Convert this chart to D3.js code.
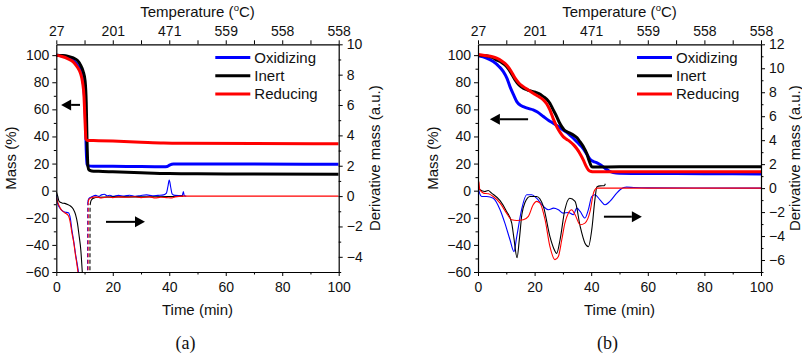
<!DOCTYPE html>
<html>
<head>
<meta charset="utf-8">
<script src="https://cdn.jsdelivr.net/npm/d3@7/dist/d3.min.js"></script>
<style>
  html, body { margin: 0; padding: 0; background: #fff; }
  svg { display: block; }
  .tick text { font-family: "Liberation Sans", Arial, sans-serif; font-size: 14px; fill: #111; }
  .lbl { font-family: "Liberation Sans", Arial, sans-serif; font-size: 15px; fill: #111; }
</style>
</head>
<body>
<svg id="chart" width="802" height="358"></svg>
<script>
// ---- shared axis content ----
const timeTicks = [0, 20, 40, 60, 80, 100];
const timeMinorTicks = [10, 30, 50, 70, 90];
const tempLabels = ["27", "201", "471", "559", "558", "558"];
const massTicks = [-60, -40, -20, 0, 20, 40, 60, 80, 100];
const massMinorTicks = [-50, -30, -10, 10, 30, 50, 70, 90];
const seriesNames = ["Oxidizing", "Inert", "Reducing"];
const seriesColors = ["#0000ff", "#000000", "#ff0000"];

// ---- panel (a): mass (%) vs time (min) ----
const massA_oxidizing = [[0,100],[2,99.5],[4,98.3],[6,96],[7.5,92.5],[8.5,89],[9.3,83],[9.9,72],[10.3,55],[10.6,30],[10.9,19.5],[11.5,18.3],[13,18.1],[20,18],[30,17.8],[38,17.7],[39.3,17.9],[40.3,19.1],[41.5,19.6],[50,19.7],[70,19.6],[100,19.5]];
const massA_inert = [[0,100],[2,99.8],[4,99.3],[6,98],[7.5,96],[8.5,93],[9.5,88],[10.2,81],[10.6,65],[10.9,35],[11.2,18],[11.6,15.2],[12.5,14.6],[15,14.3],[20,13.9],[30,13.2],[40,12.6],[50,12.4],[70,12.3],[100,12.1]];
const massA_reducing = [[0,100],[2,99],[4,97.5],[6,95],[7.5,91],[8.5,87],[9.3,80],[9.8,70],[10.2,50],[10.5,38],[11,37],[15,36.9],[20,36.6],[30,35.8],[38,35.2],[45,35],[70,34.8],[100,34.6]];

// ---- panel (a): derivative mass (a.u.) vs time (min) ----
const derivA_oxidizing = [[0,0.1],[0.5,-0.5],[1.3,-0.8],[2,-0.95],[3,-1.05],[4.3,-1.1],[5,-1.5],[5.5,-2.2],[6.2,-3],[6.8,-3.8],[7.5,-4.6],[8,-5.3],[9,-10],[10.4,-40],[11.15,-0.35],[11.6,-0.15],[12.5,-0.05],[14,0.05],[15,-0.02],[16,0.08],[17,0.12],[18,0.02],[19,0.06],[20,-0.02],[22,0.05],[24,0],[26,0.06],[28,-0.02],[30,0.04],[32,0.08],[34,0.02],[36,0.05],[38,0.08],[39,0.2],[39.5,0.6],[40,1.05],[40.5,0.6],[41,0.15],[42,0.05],[44.6,0.03],[45,0.3],[45.3,0.03],[46,0]];
const derivA_inert = [[0,0.3],[0.5,0],[1,-0.35],[2,-0.45],[3,-0.48],[4,-0.55],[5,-0.65],[6,-0.85],[6.8,-1.2],[7.5,-1.8],[8,-2.5],[8.7,-3.6],[9.2,-5],[9.8,-7],[10.5,-14],[11.6,-40],[11.95,-0.6],[12.3,-0.3],[13,-0.15],[15,-0.08],[20,-0.05],[30,-0.05],[40,-0.03],[45,0]];
const derivA_reducing = [[0,-0.1],[0.5,-0.4],[1.3,-0.75],[2,-0.95],[3,-1.1],[4.3,-1.3],[5,-1.8],[5.5,-2.4],[6.2,-3.1],[6.8,-3.9],[7.3,-4.5],[7.8,-5.3],[8.5,-8],[9.5,-15],[10.7,-40],[11.3,-0.4],[11.6,-0.2],[12.5,-0.1],[14,-0.05],[16,-0.12],[18,-0.06],[20,-0.1],[22,-0.05],[25,-0.08],[28,-0.04],[30,-0.1],[33,-0.05],[35,-0.12],[37,-0.08],[39,-0.1],[41,-0.12],[42,-0.05],[45,0],[100,0]];

// ---- panel (b): mass (%) vs time (min) ----
const massB_oxidizing = [[0,99.5],[3,97.8],[5.4,95.3],[7.5,91.5],[8.9,88],[10.2,83],[11.3,76.8],[12.5,71],[13.7,65.7],[15,63],[16,62],[18,60.5],[19.5,59.6],[21,58],[23.1,54.7],[25,51.8],[26.6,49.8],[28.5,47.2],[30.1,44.8],[32,42],[33.7,38.7],[35.2,35.5],[36.6,32.5],[38,28.5],[39.6,23.2],[40.8,21.5],[41.9,20.7],[43.5,18.8],[44.9,16.5],[46.3,14.5],[47.8,13.3],[50,12.8],[60,12.7],[80,12.5],[100,12.3]];
const massB_inert = [[0,100],[3,99.5],[5,98.3],[6.6,96.5],[8.5,94.3],[10.1,91.6],[11.5,87.5],[13.1,81.8],[14.5,78],[16,75.6],[17.5,74.3],[19.5,73.1],[21.5,71.6],[23.1,69.4],[24.3,67.5],[25.4,64.5],[26.6,59.5],[27.8,54.7],[28.7,50.5],[29.6,47.3],[30.4,45],[31.3,43.6],[32.5,42.4],[33.7,41.1],[35,39],[36,36.2],[37.2,32.5],[38.4,27.6],[39.3,22],[40.2,17.7],[41,17.5],[50,17.6],[100,17.7]];
const massB_reducing = [[0,100.5],[3,99.5],[5,98.8],[6.6,97.8],[8.5,95.5],[10.1,92.8],[11.6,88.5],[13.1,83],[14.5,79.3],[16,76.8],[17.8,74.3],[19.5,71.9],[21.3,69.6],[23.1,67],[24.3,64],[25.4,59.6],[26.6,53],[27.8,47.3],[29,43],[30.1,39.9],[31.3,38],[32.5,36.2],[33.7,34],[34.8,31.3],[36,27.5],[37.2,22.7],[38.1,18.5],[39,15.3],[40,14.2],[40.8,14],[100,14]];

// ---- panel (b): derivative mass (a.u.) vs time (min) ----
const derivB_oxidizing = [[0,0.1],[0.4,-0.3],[1.3,-0.7],[3.1,-0.7],[5.4,-0.84],[7.8,-1.8],[9.5,-2.92],[11.3,-4.31],[12.7,-5.3],[13.7,-4.03],[15.4,-1.8],[17.2,-0.56],[19,-0.56],[20.7,-0.84],[23.1,-1.53],[24.9,-1.8],[26.7,-1.67],[28.4,-1.8],[30.1,-2.09],[31.9,-2.03],[33.7,-2.22],[34.9,-1.67],[36.1,-1.95],[37.8,-2.5],[39,-1.8],[40.2,-0.7],[41.3,-0.56],[43.1,-0.98],[44.9,-1.39],[46.6,-1.11],[49,-0.42],[50.2,-0.14],[51.5,0.05],[52.5,0.08],[55,0.05],[60,0.02],[100,0]];
const derivB_inert = [[0,0.28],[0.7,-0.14],[2.4,-0.28],[3.6,-0.2],[4.8,-0.42],[7.8,-1.05],[10.1,-1.95],[11.9,-2.9],[12.7,-4.2],[13.8,-5.8],[14.6,-4.3],[15.5,-2.2],[16.6,-1.2],[18.4,-0.7],[20.7,-0.7],[23.1,-1.53],[25.4,-4.03],[26.7,-5],[27.8,-5.45],[29,-4.31],[30.7,-1.8],[32.4,-0.84],[34.3,-1.11],[36.1,-3.2],[37.8,-4.6],[39,-4.88],[40.2,-3.47],[41.3,-0.98],[42,0.1],[43.2,0.19],[44.6,0.2],[45,0.36]];
const derivB_reducing = [[0,0.1],[0.3,0.55],[0.6,-0.1],[1.9,-0.42],[3.7,-0.47],[5.4,-0.7],[7.8,-1.25],[10.1,-2.09],[11.9,-2.64],[13.7,-2.7],[16,-2.64],[17.8,-2.36],[19.5,-1.39],[20.7,-1.11],[21.9,-1.25],[23.7,-2.64],[25.4,-4.86],[27.2,-5.97],[28.4,-5.7],[29.6,-4.31],[30.7,-2.92],[31.9,-2.09],[33.1,-1.8],[34.3,-2.22],[36.1,-3.06],[37.8,-2.92],[39.6,-1.95],[40.8,-0.42],[41.3,-0.14],[42,0],[100,0]];

const panels = [
  {
    id: "a", left: 56.3, right: 338.7, top: 44.3, bottom: 272,
    massDomain: [-60, 108], derivDomain: [-5, 10],
    derivTicks: [-4, -2, 0, 2, 4, 6, 8, 10], derivMinor: [-5, -3, -1, 1, 3, 5, 7, 9],
    mass: [massA_oxidizing, massA_inert, massA_reducing],
    deriv: [derivA_oxidizing, derivA_inert, derivA_reducing],
    // arrows in (time, mass) units
    arrows: [{ from: [8.4, 63.3], to: [1.7, 63.3] }, { from: [17.6, -23], to: [31.4, -23] }],
    rightLabelX: 375
  },
  {
    id: "b", left: 478, right: 761, top: 44.3, bottom: 272,
    massDomain: [-60, 108], derivDomain: [-7, 12],
    derivTicks: [-6, -4, -2, 0, 2, 4, 6, 8, 10, 12], derivMinor: [-7, -5, -3, -1, 1, 3, 5, 7, 9, 11],
    mass: [massB_oxidizing, massB_inert, massB_reducing],
    deriv: [derivB_oxidizing, derivB_inert, derivB_reducing],
    arrows: [{ from: [17.7, 52.7], to: [4.2, 52.7] }, { from: [44.5, -19.2], to: [57.9, -19.2] }],
    rightLabelX: 795
  }
];

const svg = d3.select("#chart");
svg.append("rect").attr("width", 802).attr("height", 358).attr("fill", "#fff");

const MAJOR = 4, MINOR = 2.5;

function styleAxis(sel) {
  sel.select(".domain").attr("stroke", "#000").attr("stroke-width", 1.2);
  sel.selectAll(".tick line").attr("stroke", "#000").attr("stroke-width", 1);
}

panels.forEach(p => {
  const g = svg.append("g");
  const x = d3.scaleLinear().domain([0, 100]).range([p.left, p.right]);
  const yM = d3.scaleLinear().domain(p.massDomain).range([p.bottom, p.top]);
  const yD = d3.scaleLinear().domain(p.derivDomain).range([p.bottom, p.top]);

  const clipId = "clip-" + p.id;
  svg.append("defs").append("clipPath").attr("id", clipId)
    .append("rect").attr("x", p.left).attr("y", p.top)
    .attr("width", p.right - p.left).attr("height", p.bottom - p.top);

  const plot = g.append("g").attr("clip-path", `url(#${clipId})`);

  // derivative curves (thin); a leg leaving the visible range is drawn dashed
  const dLine = d3.line().x(d => x(d[0])).y(d => yD(d[1])).curve(d3.curveMonotoneX);
  const dLeg = d3.line().x(d => x(d[0])).y(d => yD(d[1]));
  p.deriv.forEach((data, i) => {
    const iMin = d3.minIndex(data, d => d[1]);
    const off = data[iMin][1] < p.derivDomain[0] && iMin < data.length - 1;
    const parts = off ? [data.slice(0, iMin + 1), data.slice(iMin + 1)] : [data];
    parts.forEach(part => {
      plot.append("path").datum(part).attr("d", dLine)
        .attr("fill", "none").attr("stroke", seriesColors[i]).attr("stroke-width", 1.1);
    });
    if (off) {
      plot.append("path").datum([data[iMin], data[iMin + 1]]).attr("d", dLeg)
        .attr("fill", "none").attr("stroke", seriesColors[i]).attr("stroke-width", 1.1)
        .attr("stroke-dasharray", "4,2.5");
    }
  });

  // mass curves (thick)
  const mLine = d3.line().x(d => x(d[0])).y(d => yM(d[1])).curve(d3.curveMonotoneX);
  p.mass.forEach((data, i) => {
    plot.append("path").datum(data).attr("d", mLine)
      .attr("fill", "none").attr("stroke", seriesColors[i]).attr("stroke-width", 3)
      .attr("stroke-linejoin", "round");
  });

  // axes: bottom (time)
  const gB = g.append("g").attr("transform", `translate(0,${p.bottom})`)
    .call(d3.axisBottom(x).tickValues(timeTicks).tickSize(MAJOR).tickSizeOuter(0).tickPadding(6));
  styleAxis(gB);
  const gBm = g.append("g").attr("transform", `translate(0,${p.bottom})`)
    .call(d3.axisBottom(x).tickValues(timeMinorTicks).tickSize(MINOR).tickFormat(""));
  gBm.select(".domain").remove(); styleAxis(gBm);

  // top (temperature)
  const gT = g.append("g").attr("transform", `translate(0,${p.top})`)
    .call(d3.axisTop(x).tickValues(timeTicks).tickSize(MAJOR).tickSizeOuter(0).tickPadding(4)
      .tickFormat((d, i) => tempLabels[i]));
  styleAxis(gT);
  const gTm = g.append("g").attr("transform", `translate(0,${p.top})`)
    .call(d3.axisTop(x).tickValues(timeMinorTicks).tickSize(MAJOR).tickFormat(""));
  gTm.select(".domain").remove(); styleAxis(gTm);

  // left (mass)
  const gL = g.append("g").attr("transform", `translate(${p.left},0)`)
    .call(d3.axisLeft(yM).tickValues(massTicks).tickSize(MAJOR).tickSizeOuter(0).tickPadding(3));
  styleAxis(gL);
  const gLm = g.append("g").attr("transform", `translate(${p.left},0)`)
    .call(d3.axisLeft(yM).tickValues(massMinorTicks).tickSize(MINOR).tickFormat(""));
  gLm.select(".domain").remove(); styleAxis(gLm);

  // right (derivative)
  const gR = g.append("g").attr("transform", `translate(${p.right},0)`)
    .call(d3.axisRight(yD).tickValues(p.derivTicks).tickSize(MAJOR).tickSizeOuter(0).tickPadding(4));
  styleAxis(gR);
  const gRm = g.append("g").attr("transform", `translate(${p.right},0)`)
    .call(d3.axisRight(yD).tickValues(p.derivMinor).tickSize(MINOR).tickFormat(""));
  gRm.select(".domain").remove(); styleAxis(gRm);

  const cx = (p.left + p.right) / 2;
  const cy = (p.top + p.bottom) / 2;

  // axis titles
  const tt = g.append("text").attr("class", "lbl").attr("x", cx).attr("y", 17).attr("text-anchor", "middle");
  tt.append("tspan").text("Temperature (");
  tt.append("tspan").text("o").attr("font-size", "9.5px").attr("dy", -6);
  tt.append("tspan").text("C)").attr("dy", 6);

  g.append("text").attr("class", "lbl").attr("x", cx).attr("y", 315)
    .attr("text-anchor", "middle").text("Time (min)");

  g.append("text").attr("class", "lbl").attr("text-anchor", "middle")
    .attr("transform", `translate(${p.left - 40},${cy}) rotate(-90)`).text("Mass (%)");

  g.append("text").attr("class", "lbl").attr("text-anchor", "middle")
    .attr("transform", `translate(${p.rightLabelX + 5},${cy}) rotate(-90)`).text("Derivative mass (a.u.)");

  g.append("text").attr("x", cx - 12).attr("y", 349).attr("text-anchor", "middle")
    .attr("font-family", "'Liberation Serif', 'DejaVu Serif', serif").attr("font-size", "18px")
    .attr("fill", "#111").text(`(${p.id})`);

  // legend
  const lg = g.append("g").attr("transform", `translate(${p.left + 159},0)`);
  seriesNames.forEach((name, i) => {
    const ly = 57.5 + i * 18.3;
    lg.append("line").attr("x1", 0).attr("x2", 35).attr("y1", ly).attr("y2", ly)
      .attr("stroke", seriesColors[i]).attr("stroke-width", 3);
    lg.append("text").attr("class", "lbl").attr("x", 39).attr("y", ly + 5.3).text(name);
  });

  // direction arrows (which axis each curve family belongs to)
  p.arrows.forEach(a => {
    const x1 = x(a.from[0]), x2 = x(a.to[0]), yy = yM(a.from[1]);
    const dir = Math.sign(x2 - x1);
    const headLen = 10, half = 5.5;
    g.append("line").attr("x1", x1).attr("x2", x2 - dir * headLen).attr("y1", yy).attr("y2", yy)
      .attr("stroke", "#000").attr("stroke-width", 2);
    g.append("path")
      .attr("d", `M${x2},${yy} L${x2 - dir * headLen},${yy - half} L${x2 - dir * headLen},${yy + half} Z`)
      .attr("fill", "#000");
  });
});
</script>
</body>
</html>
